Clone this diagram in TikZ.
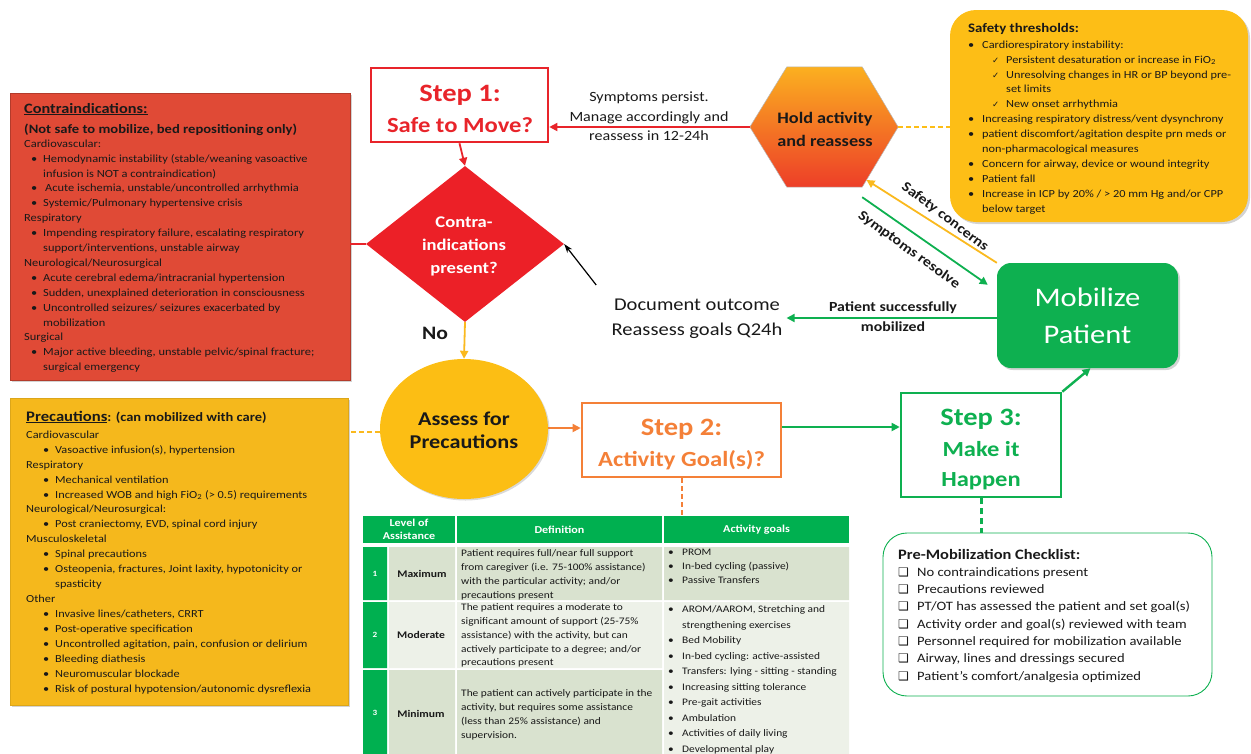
\documentclass[tikz,border=0pt]{standalone}
\usepackage{fontspec}
\setmainfont{Carlito}[FakeStretch=1.14]
\newfontfamily\djv{DejaVu Sans}
\usetikzlibrary{arrows.meta,shapes.geometric,shadows,calc}
\definecolor{ink}{RGB}{25,25,25}
\definecolor{contraRed}{RGB}{224,74,54}
\definecolor{diaRed}{RGB}{236,32,39}
\definecolor{stepRed}{RGB}{232,36,42}
\definecolor{precYellow}{RGB}{245,184,28}
\definecolor{safeYellow}{RGB}{253,190,22}
\definecolor{circYellow}{RGB}{252,190,20}
\definecolor{lineYellow}{RGB}{250,185,30}
\definecolor{stepOrange}{RGB}{244,128,56}
\definecolor{stepGreen}{RGB}{14,176,80}
\definecolor{tblGreen}{RGB}{0,176,80}
\definecolor{tblDark}{RGB}{217,226,207}
\definecolor{tblLight}{RGB}{237,241,232}
\definecolor{hexTop}{RGB}{251,176,32}
\definecolor{hexBot}{RGB}{237,62,40}
\newcommand\bu[2]{\hspace*{#1pt}\makebox[#2pt][l]{•}}
\newcommand\hs[1]{\hspace*{#1pt}}
\newcommand\ckm{\hspace*{24pt}\makebox[14pt][l]{{\djv\fontsize{8.5}{8.5}\selectfont ✓}}}
\newcommand\bxm{\makebox[19pt][l]{{\djv\fontsize{12}{12}\selectfont ❑}}}
\begin{document}
\begin{tikzpicture}[x=1pt,y=-1pt,
  lbl/.style={inner sep=0pt, text=ink},
  listtxt/.style={anchor=north west, align=left, inner sep=0pt, text=ink},
  panel/.style={inner sep=0pt, drop shadow={opacity=0.35, shadow xshift=2pt, shadow yshift=-2pt}},
  stepbox/.style={draw, line width=2.6pt, fill=white, inner sep=0pt},
  steptxt/.style={inner sep=0pt, align=center, font=\bfseries\fontsize{21.6}{31}\selectfont},
  tarrow/.style={-{Triangle[length=8pt,width=8pt]}, line width=1.8pt},
  cellhdr/.style={fill=tblGreen, inner sep=0pt, text=white, align=center, font=\bfseries\fontsize{10.6}{13}\selectfont},
  tbltxt/.style={anchor=north west, align=left, inner sep=0pt, text=ink, font=\fontsize{10}{13.8}\selectfont},
]
\useasboundingbox (0,0) rectangle (1251,753);

% ---------------- Contraindications panel
\node[panel, draw=contraRed!80!black, line width=0.6pt, fill=contraRed, minimum width=340, minimum height=287] (contra) at (180,236.5) {};
\node[lbl, anchor=base west, font=\bfseries\fontsize{14.3}{16}\selectfont] (ct1) at (24,113) {\underline{Contraindications:}};
\node[lbl, anchor=base west, font=\bfseries\fontsize{12.8}{15}\selectfont] (ct2) at (24,133) {(Not safe to mobilize, bed repositioning only)};
\node[listtxt, font=\fontsize{10.9}{14.9}\selectfont] (cbody) at (24,136.6) {\strut Cardiovascular:\\
\bu{7}{12}Hemodynamic instability (stable/weaning vasoactive\\
\hs{19}infusion is NOT a contraindication)\\
\bu{7}{12}\hspace{2pt}Acute ischemia, unstable/uncontrolled arrhythmia\\
\bu{7}{12}Systemic/Pulmonary hypertensive crisis\\
Respiratory\\
\bu{7}{12}Impending respiratory failure, escalating respiratory\\
\hs{19}support/interventions,  unstable airway\\
Neurological/Neurosurgical\\
\bu{7}{12}Acute cerebral edema/intracranial hypertension\\
\bu{7}{12}Sudden, unexplained deterioration in consciousness\\
\bu{7}{12}Uncontrolled seizures/ seizures exacerbated by\\
\hs{19}mobilization\\
Surgical\\
\bu{7}{12}Major active bleeding, unstable  pelvic/spinal fracture;\\
\hs{19}surgical emergency};

% ---------------- Precautions panel
\node[panel, draw=precYellow!90!black, line width=0.5pt, fill=precYellow, minimum width=338, minimum height=307] (prec) at (179,551.5) {};
\node[lbl, anchor=base west, font=\bfseries\fontsize{12.7}{15}\selectfont] (pt1) at (26,421) {{\fontsize{14.6}{16}\selectfont\underline{Precautions}}: (can mobilized with care)};
\node[listtxt, font=\fontsize{10.8}{14.94}\selectfont] (pbody) at (26,427.6) {\strut Cardiovascular\\
\bu{17}{12}Vasoactive infusion(s), hypertension\\
Respiratory\\
\bu{17}{12}Mechanical ventilation\\
\bu{17}{12}Increased WOB and high FiO\textsubscript{2} (> 0.5) requirements\\
Neurological/Neurosurgical:\\
\bu{17}{12}Post craniectomy, EVD, spinal cord injury\\
Musculoskeletal\\
\bu{17}{12}Spinal precautions\\
\bu{17}{12}Osteopenia, fractures, Joint laxity, hypotonicity or\\
\hs{29}spasticity\\
Other\\
\bu{17}{12}Invasive lines/catheters, CRRT\\
\bu{17}{12}Post-operative specification\\
\bu{17}{12}Uncontrolled agitation, pain, confusion or delirium\\
\bu{17}{12}Bleeding diathesis\\
\bu{17}{12}Neuromuscular blockade\\
\bu{17}{12}Risk of postural hypotension/autonomic  dysreflexia};

% ---------------- Safety thresholds panel
\node[panel, fill=safeYellow, rounded corners=26pt, minimum width=298, minimum height=212] (safe) at (1099,116) {};
\node[lbl, anchor=base west, font=\bfseries\fontsize{13}{16}\selectfont] (st1) at (968,32) {Safety thresholds:};
\node[listtxt, font=\fontsize{10.8}{14.9}\selectfont] (sbody) at (968,37.6) {\strut\makebox[14pt][l]{•}Cardiorespiratory instability:\\
\ckm Persistent desaturation or increase in FiO\textsubscript{2}\\
\ckm Unresolving changes in HR or BP beyond pre-\\
\hs{38}set limits\\
\ckm New onset arrhythmia\\
\makebox[14pt][l]{•}Increasing respiratory distress/vent dysynchrony\\
\makebox[14pt][l]{•}patient discomfort/agitation despite prn meds or\\
\hs{14}non-pharmacological measures\\
\makebox[14pt][l]{•}Concern for airway, device or wound integrity\\
\makebox[14pt][l]{•}Patient fall\\
\makebox[14pt][l]{•}Increase in ICP by 20\% / > 20 mm Hg and/or CPP\\
\hs{14}below target};

% ---------------- Step 1 and diamond
\node[stepbox, draw=stepRed, minimum width=177, minimum height=74] (s1) at (459.5,105) {};
\node[steptxt, text=stepRed] (s1t) at (460,108.5) {{\fontsize{25}{31}\selectfont Step 1:}\\Safe to Move?};
\node[diamond, fill=diaRed, text=white, inner sep=0pt, minimum width=198, minimum height=156, align=center, font=\bfseries\fontsize{16.3}{23}\selectfont] (dia) at (465,244) {};
\node[lbl, text=white, align=center, font=\bfseries\fontsize{16.3}{23}\selectfont] (diat) at (464,246) {Contra-\\indications\\present?};

% ---------------- Hold activity hexagon
\node[inner sep=0pt, minimum width=148, minimum height=120] (hold) at (824,127) {};
\shade[top color=hexTop, bottom color=hexBot, draw=gray!55, line width=0.5pt]
  (hold.west) -- ($(hold.north west)+(37,0)$) -- ($(hold.north east)+(-36,0)$) -- (hold.east)
  -- ($(hold.south east)+(-36,0)$) -- ($(hold.south west)+(37,0)$) -- cycle;
\node[lbl, align=center, font=\bfseries\fontsize{16}{23}\selectfont] (holdtxt) at (825,129.5) {Hold activity\\and reassess};
\coordinate (hBR) at ($(hold.south east)+(-36,0)$);

% ---------------- Assess circle, steps 2 and 3, mobilize
\node[ellipse, fill=circYellow, inner sep=0pt, minimum width=168, minimum height=140, drop shadow={opacity=0.3, shadow xshift=1.5pt, shadow yshift=-1.5pt}] (asf) at (464,429) {};
\node[lbl, align=center, font=\bfseries\fontsize{19.5}{23}\selectfont] (asft) at (464,430) {Assess for\\Precautions};
\node[stepbox, draw=stepOrange, minimum width=199, minimum height=74] (s2) at (681.5,440) {};
\node[steptxt, text=stepOrange] (s2t) at (681.5,444) {{\fontsize{25}{31}\selectfont Step 2:}\\Activity Goal(s)?};
\node[stepbox, draw=stepGreen, minimum width=160, minimum height=104] (s3) at (981,445) {};
\node[steptxt, text=stepGreen, font=\bfseries\fontsize{21.5}{30.5}\selectfont] (s3t) at (981,449.5) {{\fontsize{25}{30.5}\selectfont Step 3:}\\Make it\\Happen};
\node[panel, fill=stepGreen, rounded corners=14pt, minimum width=181, minimum height=105, text=white, align=center, font=\fontsize{26.8}{37}\selectfont] (mob) at (1087.5,315.5) {Mobilize\\Patient};

% ---------------- Document outcome
\node[lbl, align=center, inner sep=4pt, font=\fontsize{18}{25}\selectfont] (doc) at (697,318.5) {Document outcome\\Reassess goals Q24h};

% ---------------- Checklist
\node[draw=stepGreen, line width=0.9pt, fill=white, rounded corners=24pt, minimum width=329, minimum height=163, inner sep=0pt] (chk) at (1047.5,614.5) {};
\node[lbl, anchor=base west, font=\bfseries\fontsize{14.4}{16}\selectfont] (chkt) at (898,559) {Pre-Mobilization  Checklist:};
\node[listtxt, font=\fontsize{12.8}{17.3}\selectfont] (chkb) at (898,563.9) {\strut\bxm No contraindications present\\
\bxm Precautions reviewed\\
\bxm PT/OT has assessed  the patient and set goal(s)\\
\bxm Activity order and goal(s) reviewed with team\\
\bxm Personnel required for mobilization available\\
\bxm Airway, lines and dressings secured\\
\bxm Patient’s comfort/analgesia optimized};

% ---------------- Table
\node[cellhdr, minimum width=92, minimum height=27] (hdrL) at (409,529.5) {Level of\\Assistance};
\node[cellhdr, minimum width=205, minimum height=27] (hdrD) at (559.5,529.5) {Definition};
\node[cellhdr, minimum width=185, minimum height=27] (hdrG) at (756.5,529.5) {Activity  goals};
\fill[tblGreen] (363,547) rectangle (387,600) (363,602) rectangle (387,668) (363,670) rectangle (387,760);
\fill[tblDark] (389,547) rectangle (455,600) (457,547) rectangle (662,600) (664,547) rectangle (849,600);
\fill[tblLight] (389,602) rectangle (455,668) (457,602) rectangle (662,668) (664,602) rectangle (849,760);
\fill[tblDark] (389,670) rectangle (455,760) (457,670) rectangle (662,760);
\node[lbl, text=white, font=\bfseries\fontsize{8}{9}\selectfont] (n1) at (375,573.5) {1};
\node[lbl, text=white, font=\bfseries\fontsize{8}{9}\selectfont] (n2) at (375,635) {2};
\node[lbl, text=white, font=\bfseries\fontsize{8}{9}\selectfont] (n3) at (375,713) {3};
\node[lbl, font=\bfseries\fontsize{10.2}{12}\selectfont] (lv1) at (422,573.5) {Maximum};
\node[lbl, font=\bfseries\fontsize{10.2}{12}\selectfont] (lv2) at (421,635) {Moderate};
\node[lbl, font=\bfseries\fontsize{10.2}{12}\selectfont] (lv3) at (421,713.5) {Minimum};
\node[tbltxt] (d1) at (461,546.9) {\strut Patient requires full/near full support\\from caregiver (i.e. 75-100\%  assistance)\\with the particular activity;  and/or\\precautions present};
\node[tbltxt] (d2) at (461,600.9) {\strut The patient requires a moderate to\\significant amount of support (25-75\%\\assistance) with the activity, but can\\actively participate to a degree; and/or\\precautions present};
\node[tbltxt] (d3) at (461,686.9) {\strut The patient can actively participate in the\\activity, but requires some assistance\\(less than 25\% assistance) and\\supervision.};
\node[tbltxt] (g1) at (667,545.9) {\strut\bu{1}{14}PROM\\\bu{1}{14}In-bed cycling (passive)\\\bu{1}{14}Passive Transfers};
\node[tbltxt, font=\fontsize{10}{15.5}\selectfont] (g2) at (667,601.6) {\strut\bu{1}{14}AROM/AAROM, Stretching and\\
\hs{15}strengthening exercises\\
\bu{1}{14}Bed Mobility\\
\bu{1}{14}In-bed cycling: active-assisted\\
\bu{1}{14}Transfers: lying - sitting - standing\\
\bu{1}{14}Increasing sitting tolerance\\
\bu{1}{14}Pre-gait activities\\
\bu{1}{14}Ambulation\\
\bu{1}{14}Activities of daily living\\
\bu{1}{14}Developmental play};

% ---------------- Connectors
\draw[tarrow, stepRed, line width=1.8pt] (s1.south) -- (dia.north);
\draw[stepRed, line width=2pt] (dia.west) -- (dia.west -| contra.east);
\draw[tarrow, lineYellow, line width=1.8pt] (dia.south) -- (asf.north);
\node[lbl, font=\bfseries\fontsize{19}{20}\selectfont] (no) at (435,333) {No};
\draw[lineYellow, line width=2pt, dash pattern=on 5pt off 3pt] (asf.west |- 0,432) -- (prec.east |- 0,432);
\draw[tarrow, stepOrange] (asf.east |- 0,428) -- (s2.west |- 0,428);
\draw[stepOrange, line width=2pt, dash pattern=on 5pt off 3pt] (s2.south) -- (s2.south |- hdrG.north);
\draw[tarrow, stepGreen] (s2.east |- 0,427) -- (s3.west |- 0,427);
\draw[tarrow, stepGreen, line width=2.4pt] (s3.north east) -- ([xshift=3pt]mob.south);
\draw[stepGreen, line width=3pt, dash pattern=on 6pt off 4pt] (s3.south) -- (s3.south |- chk.north);
\draw[tarrow, stepGreen] ([yshift=-2.5pt]mob.west) -- ([yshift=-2.5pt]mob.west -| doc.east);
\node[lbl, font=\bfseries\fontsize{13.9}{20}\selectfont, align=center] (psm) at (893,317) {Patient successfully\\mobilized};
\draw[tarrow, stepRed] (hold.west) -- (hold.west -| s1.east);
\node[lbl, align=center, font=\fontsize{14.1}{19.5}\selectfont] (persist) at (649,116.5) {Symptoms persist.\\Manage accordingly and\\reassess  in 12-24h};
\draw[safeYellow, line width=2pt, dash pattern=on 5pt off 3pt] (hold.east) -- (hold.east -| safe.west);
\coordinate (yTip) at ($(hBR)!0.12!(hold.east)$);
\draw[tarrow, lineYellow] (mob.north west) -- (yTip);
\coordinate (gStart) at ($(hBR)+(0,10)$);
\coordinate (gEnd) at ($(mob.north west)+(-9,22)$);
\draw[tarrow, stepGreen] (gStart) -- (gEnd);
\node[lbl, rotate=-37, font=\bfseries\fontsize{14.1}{16}\selectfont] (sc) at (945,217) {Safety concerns};
\node[lbl, rotate=-36, font=\bfseries\fontsize{14.1}{16}\selectfont] (sr) at (909,250) {Symptoms resolve};
\coordinate (docArr) at ($(dia.east)+(32,41)$);
\draw[-{Stealth[length=9pt,width=6pt]}, line width=1.2pt, black] (docArr) -- (dia.east);
\end{tikzpicture}
\end{document}
